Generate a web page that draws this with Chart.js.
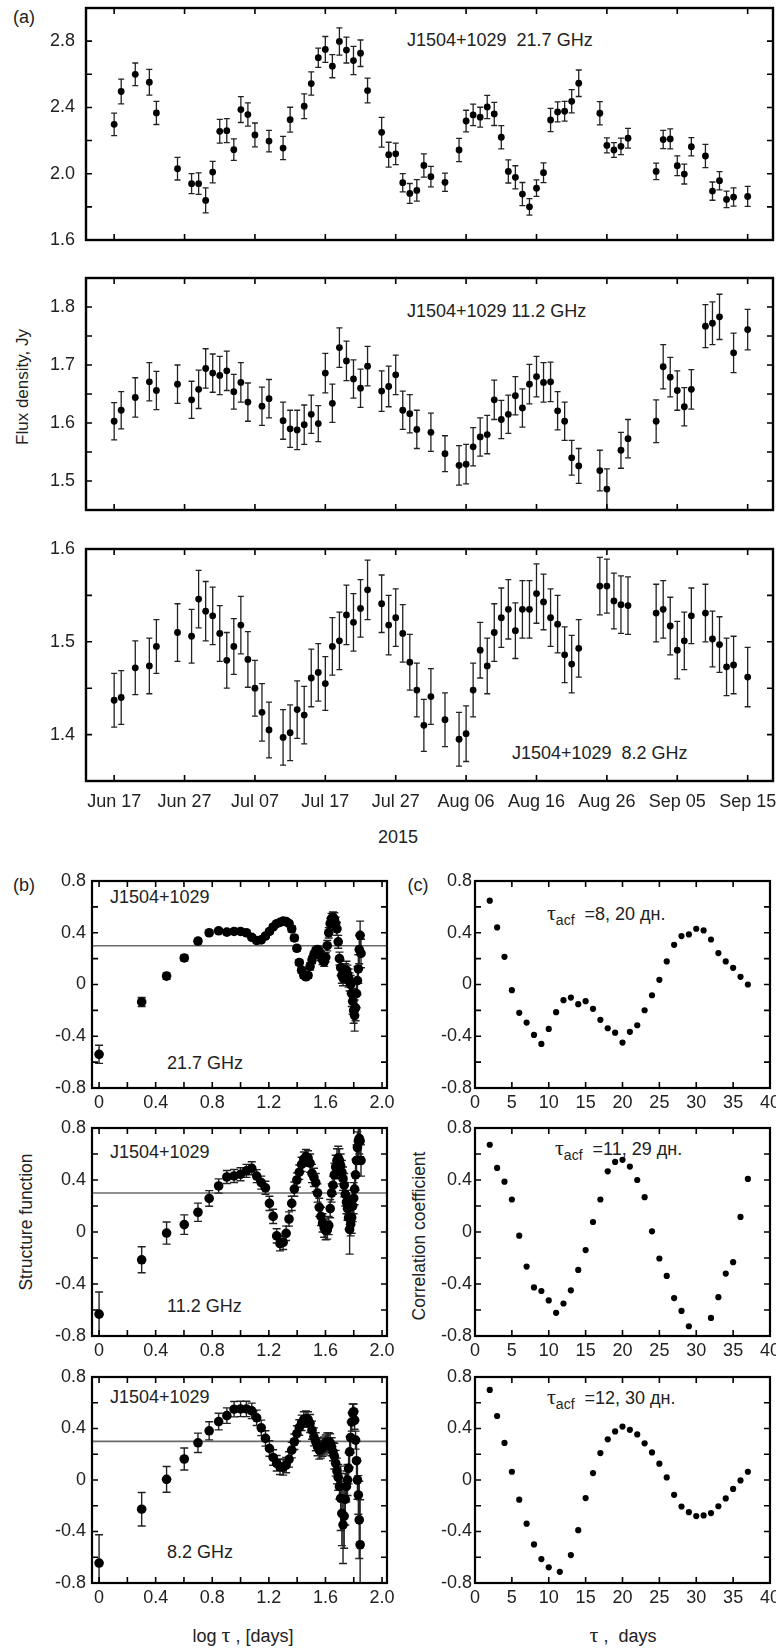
<!DOCTYPE html>
<html><head><meta charset="utf-8"><title>J1504+1029</title>
<script src="https://cdn.jsdelivr.net/npm/chart.js@4.4.1/dist/chart.umd.min.js"></script>
<style>
html,body{margin:0;padding:0;background:#fff}
body{position:relative;width:776px;height:1649px;overflow:hidden;font-family:"Liberation Sans",Arial,Helvetica,sans-serif;color:#222}
canvas{position:absolute}
.t{position:absolute;white-space:pre;font-size:18px;line-height:1;transform:translate(0,-50%)}
.c{transform:translate(-50%,-50%)}
.r{transform:translate(-50%,-50%) rotate(-90deg)}
.tau{font-family:"Liberation Serif","DejaVu Serif",serif;font-size:22px}
.sb{font-size:14px;position:relative;top:5px}
</style></head><body>
<div class="t c" style="left:24px;top:17px">(a)</div>
<div class="t" style="left:407px;top:40px">J1504+1029  21.7 GHz</div>
<div class="t" style="left:407px;top:311px">J1504+1029 11.2 GHz</div>
<div class="t" style="left:512px;top:753px">J1504+1029  8.2 GHz</div>
<div class="t c" style="left:398px;top:837px">2015</div>
<div class="t r" style="left:22px;top:387px;font-size:17px">Flux density, Jy</div>
<div class="t c" style="left:24px;top:885px">(b)</div>
<div class="t c" style="left:418px;top:885px">(c)</div>
<div class="t" style="left:110px;top:897px">J1504+1029</div>
<div class="t" style="left:110px;top:1152px">J1504+1029</div>
<div class="t" style="left:110px;top:1397px">J1504+1029</div>
<div class="t" style="left:167px;top:1063px">21.7 GHz</div>
<div class="t" style="left:167px;top:1306px">11.2 GHz</div>
<div class="t" style="left:167px;top:1552px">8.2 GHz</div>
<div class="t r" style="left:27px;top:1222px;font-size:17.5px">Structure function</div>
<div class="t r" style="left:420px;top:1236px;font-size:17.5px">Correlation coefficient</div>
<div class="t c" style="left:243px;top:1635px">log <span class="tau">τ</span> , [days]</div>
<div class="t c" style="left:623px;top:1635px"><span class="tau">τ</span> ,  days</div>
<div class="t" style="left:547px;top:913px"><span class="tau">τ</span><span class="sb">acf</span>  =8, 20 дн.</div>
<div class="t" style="left:555px;top:1148px"><span class="tau">τ</span><span class="sb">acf</span>  =11, 29 дн.</div>
<div class="t" style="left:547px;top:1397px"><span class="tau">τ</span><span class="sb">acf</span>  =12, 30 дн.</div>
<script>
// ---------------- DATA ----------------
// (a) light curves: day number counted from 2015 Jun 17
const dateTickDays = [0,10,20,30,40,50,60,70,80,90];
const dateTickLabels = ['Jun 17','Jun 27','Jul 07','Jul 17','Jul 27','Aug 06','Aug 16','Aug 26','Sep 05','Sep 15'];

const days21 = [0,1,3,5,6,9,11,12,13,14,15,16,17,18,19,20,22,24,25,27,28,29,30,31,32,33,34,35,36,38,39,40,41,42,43,44,45,47,49,50,51,52,53,54,55,56,57,58,59,60,61,62,63,64,65,66,69,70,71,72,73,77,78,79,80,81,82,84,85,86,87,88,90];
const flux21 = [2.298,2.496,2.60,2.552,2.367,2.03,1.94,1.94,1.839,2.01,2.256,2.26,2.145,2.387,2.357,2.234,2.197,2.155,2.326,2.407,2.544,2.70,2.75,2.649,2.798,2.746,2.683,2.727,2.502,2.25,2.115,2.12,1.946,1.881,1.899,2.05,1.982,1.948,2.143,2.318,2.355,2.341,2.403,2.361,2.22,2.014,1.978,1.877,1.80,1.913,2.006,2.324,2.373,2.377,2.437,2.546,2.365,2.171,2.143,2.165,2.214,2.014,2.206,2.21,2.048,1.998,2.163,2.107,1.895,1.958,1.845,1.859,1.863];
const err21 = [0.068,0.075,0.068,0.078,0.07,0.068,0.06,0.065,0.075,0.065,0.072,0.072,0.065,0.078,0.07,0.072,0.065,0.07,0.075,0.075,0.07,0.058,0.078,0.07,0.082,0.078,0.085,0.08,0.075,0.09,0.075,0.065,0.055,0.06,0.065,0.07,0.062,0.055,0.07,0.065,0.065,0.06,0.07,0.07,0.07,0.07,0.07,0.07,0.05,0.05,0.06,0.07,0.06,0.06,0.07,0.08,0.07,0.045,0.045,0.05,0.06,0.05,0.055,0.06,0.06,0.06,0.055,0.07,0.055,0.055,0.05,0.055,0.06];

const days11 = [0,1,3,5,6,9,11,12,13,14,15,16,17,18,19,21,22,24,25,26,27,28,29,30,31,32,33,34,35,36,38,39,40,41,42,43,45,47,49,50,51,52,53,54,55,56,57,58,59,60,61,62,63,64,65,66,69,70,72,73,77,78,79,80,81,82,84,85,86,88,90];
const flux11 = [1.603,1.622,1.644,1.671,1.656,1.667,1.640,1.658,1.694,1.686,1.682,1.690,1.654,1.670,1.636,1.629,1.642,1.604,1.590,1.588,1.597,1.615,1.599,1.686,1.634,1.730,1.707,1.676,1.660,1.698,1.655,1.663,1.683,1.622,1.616,1.589,1.584,1.547,1.527,1.529,1.559,1.576,1.580,1.640,1.606,1.615,1.647,1.626,1.667,1.680,1.670,1.671,1.621,1.603,1.540,1.526,1.518,1.486,1.553,1.573,1.603,1.697,1.679,1.656,1.628,1.658,1.767,1.772,1.783,1.721,1.761];
const err11 = [0.032,0.032,0.034,0.033,0.033,0.033,0.032,0.033,0.034,0.033,0.033,0.034,0.03,0.034,0.033,0.033,0.033,0.032,0.032,0.034,0.034,0.033,0.031,0.034,0.033,0.034,0.034,0.033,0.033,0.034,0.035,0.035,0.034,0.033,0.033,0.033,0.033,0.031,0.034,0.034,0.033,0.033,0.033,0.034,0.033,0.033,0.033,0.033,0.034,0.035,0.034,0.034,0.033,0.033,0.03,0.03,0.035,0.035,0.031,0.033,0.037,0.038,0.034,0.034,0.033,0.034,0.037,0.037,0.039,0.034,0.035];

const days8 = [0,1,3,5,6,9,11,12,13,14,15,16,17,18,19,20,21,22,24,25,26,27,28,29,30,31,32,33,34,35,36,38,39,40,41,42,43,44,45,47,49,50,51,52,53,54,55,56,57,58,59,60,61,62,63,64,65,66,69,70,71,72,73,77,78,79,80,81,82,84,85,86,87,88,90];
const flux8 = [1.437,1.440,1.472,1.474,1.495,1.510,1.506,1.546,1.533,1.528,1.509,1.480,1.495,1.518,1.481,1.450,1.424,1.405,1.397,1.402,1.427,1.421,1.461,1.467,1.455,1.495,1.501,1.529,1.521,1.536,1.556,1.541,1.518,1.526,1.509,1.478,1.448,1.410,1.441,1.416,1.395,1.401,1.448,1.491,1.474,1.510,1.526,1.535,1.512,1.535,1.535,1.552,1.543,1.526,1.519,1.486,1.476,1.493,1.560,1.560,1.544,1.540,1.539,1.531,1.535,1.517,1.491,1.501,1.528,1.531,1.503,1.497,1.473,1.475,1.462];
const err8 = [0.029,0.029,0.029,0.03,0.029,0.031,0.029,0.031,0.032,0.031,0.03,0.03,0.03,0.031,0.03,0.03,0.031,0.03,0.03,0.03,0.031,0.031,0.031,0.031,0.029,0.031,0.031,0.032,0.031,0.031,0.032,0.031,0.032,0.031,0.031,0.03,0.029,0.028,0.03,0.029,0.029,0.03,0.029,0.03,0.03,0.031,0.032,0.032,0.03,0.031,0.031,0.032,0.03,0.031,0.031,0.03,0.031,0.031,0.031,0.029,0.03,0.031,0.031,0.031,0.031,0.031,0.031,0.031,0.03,0.031,0.03,0.03,0.031,0.031,0.032];

// (b) structure functions vs lag tau (days), plotted on log axis
const sfLevel = 0.3;
const sfLogTicks = [0,0.2,0.4,0.6,0.8,1.0,1.2,1.4,1.6,1.8,2.0];
const sfLogLabels = ['0','','0.4','','0.8','','1.2','','1.6','','2.0'];
const corrTicks = [-0.8,-0.6,-0.4,-0.2,0,0.2,0.4,0.6,0.8];
const corrLabels = ['-0.8','','-0.4','','0','','0.4','','0.8'];

const sfLag21 = [1,2,3,4,5,6,7,8,9,10,11,12,13,14,15,16,17,18,19,20,21,22,23,24,25,26,27,28,29,30,31,32,33,34,35,36,37,38,39,40,41,42,43,44,45,46,47,48,49,50,51,52,53,54,55,56,57,58,59,60,61,62,63,64,65,66,67,68,69,70,71];
const sf21 = [-0.54,-0.135,0.065,0.205,0.335,0.40,0.415,0.405,0.41,0.41,0.40,0.365,0.34,0.345,0.375,0.41,0.445,0.47,0.48,0.49,0.487,0.472,0.43,0.36,0.28,0.17,0.11,0.07,0.06,0.07,0.14,0.19,0.23,0.26,0.27,0.255,0.22,0.19,0.175,0.21,0.30,0.40,0.47,0.51,0.52,0.505,0.47,0.43,0.33,0.20,0.13,0.07,0.05,0.07,0.10,0.11,0.08,0.05,0.02,0.00,-0.07,-0.13,-0.20,-0.24,-0.18,-0.07,0.03,0.12,0.27,0.38,0.24];
const sfErr21 = [0.07,0.035,0.025,0.022,0.02,0.018,0.018,0.018,0.018,0.018,0.018,0.018,0.018,0.018,0.018,0.018,0.018,0.018,0.018,0.018,0.018,0.018,0.022,0.022,0.022,0.022,0.022,0.022,0.022,0.022,0.028,0.028,0.028,0.028,0.028,0.035,0.035,0.035,0.035,0.035,0.04,0.04,0.04,0.04,0.04,0.05,0.05,0.05,0.05,0.05,0.06,0.06,0.06,0.06,0.06,0.07,0.07,0.07,0.07,0.07,0.1,0.1,0.1,0.12,0.1,0.11,0.11,0.11,0.11,0.11,0.11];

const sfLag11 = [1,2,3,4,5,6,7,8,9,10,11,12,13,14,15,16,17,18,19,20,21,22,23,24,25,26,27,28,29,30,31,32,33,34,35,36,37,38,39,40,41,42,43,44,45,46,47,48,49,50,51,52,53,54,55,56,57,58,59,60,61,62,63,64,65,66,67,68,69,70,71];
const sf11 = [-0.632,-0.214,-0.008,0.057,0.152,0.258,0.354,0.423,0.431,0.444,0.47,0.49,0.43,0.38,0.34,0.22,0.12,-0.03,-0.09,-0.08,-0.01,0.10,0.22,0.33,0.40,0.46,0.52,0.56,0.58,0.57,0.53,0.45,0.42,0.38,0.30,0.19,0.12,0.07,0.03,0.01,0.015,0.05,0.18,0.30,0.36,0.44,0.50,0.55,0.57,0.55,0.51,0.46,0.41,0.36,0.29,0.23,0.18,0.11,0.02,0.06,0.11,0.20,0.26,0.33,0.44,0.55,0.65,0.70,0.72,0.70,0.55];
const sfErr11 = [0.17,0.1,0.085,0.075,0.07,0.06,0.055,0.05,0.05,0.05,0.05,0.05,0.05,0.05,0.05,0.055,0.055,0.055,0.055,0.055,0.055,0.055,0.055,0.055,0.055,0.055,0.055,0.055,0.055,0.055,0.07,0.07,0.07,0.07,0.07,0.07,0.07,0.07,0.07,0.07,0.07,0.07,0.07,0.07,0.07,0.09,0.09,0.09,0.09,0.09,0.09,0.09,0.09,0.09,0.09,0.09,0.09,0.09,0.19,0.09,0.12,0.12,0.12,0.12,0.12,0.12,0.12,0.12,0.12,0.12,0.12];

const sfLag8 = [1,2,3,4,5,6,7,8,9,10,11,12,13,14,15,16,17,18,19,20,21,22,23,24,25,26,27,28,29,30,31,32,33,34,35,36,37,38,39,40,41,42,43,44,45,46,47,48,49,50,51,52,53,54,55,56,57,58,59,60,61,62,63,64,65,66,67,68,69,70];
const sf8 = [-0.645,-0.227,0.005,0.163,0.289,0.382,0.454,0.50,0.55,0.552,0.552,0.537,0.483,0.405,0.323,0.245,0.175,0.13,0.103,0.098,0.116,0.16,0.232,0.297,0.361,0.408,0.444,0.47,0.477,0.47,0.439,0.387,0.335,0.297,0.258,0.232,0.24,0.255,0.265,0.28,0.295,0.297,0.289,0.258,0.219,0.185,0.13,0.07,0.02,-0.05,-0.142,-0.26,-0.348,-0.28,-0.15,-0.05,0.0,0.09,0.219,0.33,0.45,0.52,0.53,0.464,0.31,0.15,0.0,-0.116,-0.31,-0.503];
const sfErr8 = [0.22,0.13,0.1,0.085,0.075,0.07,0.065,0.06,0.06,0.06,0.06,0.06,0.06,0.06,0.06,0.06,0.06,0.06,0.06,0.06,0.06,0.06,0.06,0.06,0.06,0.06,0.06,0.06,0.06,0.06,0.07,0.07,0.07,0.07,0.07,0.07,0.07,0.07,0.07,0.07,0.07,0.07,0.07,0.07,0.07,0.1,0.1,0.1,0.1,0.1,0.25,0.25,0.3,0.25,0.2,0.12,0.12,0.12,0.12,0.12,0.07,0.07,0.06,0.07,0.07,0.15,0.15,0.15,0.3,0.35];

// (c) autocorrelation functions
const acfTicks = [0,5,10,15,20,25,30,35,40];
const acfTickLabels = ['0','5','10','15','20','25','30','35','40'];
const acfLag21 = [2,3,4,5,6,7,8,9,10,11,12,13,14,15,16,17,18,19,20,21,22,23,24,25,26,27,28,29,30,31,32,33,34,35,36,37];
const acf21 = [0.648,0.441,0.214,-0.044,-0.219,-0.294,-0.39,-0.459,-0.343,-0.214,-0.121,-0.101,-0.152,-0.129,-0.188,-0.273,-0.338,-0.372,-0.449,-0.366,-0.315,-0.199,-0.083,0.036,0.178,0.307,0.374,0.387,0.431,0.418,0.348,0.243,0.178,0.129,0.059,0.0];
const acfLag11 = [2,3,4,5,6,7,8,9,10,11,12,13,14,15,16,17,18,19,20,21,22,23,24,25,26,27,28,29,32,33,34,35,36,37];
const acf11 = [0.671,0.493,0.387,0.25,-0.028,-0.266,-0.426,-0.454,-0.526,-0.622,-0.55,-0.449,-0.292,-0.139,0.077,0.25,0.467,0.539,0.555,0.503,0.4,0.268,0.005,-0.204,-0.338,-0.508,-0.607,-0.725,-0.661,-0.501,-0.32,-0.232,0.116,0.408];
const acfLag8 = [2,3,4,5,6,7,8,9,10,11.5,13,14,15,16,17,18,19,20,21,22,23,24,25,26,27,28,29,30,31,32,33,34,35,36,37];
const acf8 = [0.70,0.497,0.288,0.064,-0.153,-0.339,-0.5,-0.614,-0.678,-0.713,-0.583,-0.39,-0.14,0.054,0.209,0.316,0.377,0.415,0.39,0.354,0.285,0.214,0.127,0.02,-0.115,-0.206,-0.25,-0.28,-0.275,-0.257,-0.204,-0.143,-0.069,-0.003,0.064];

// ---------------- DRAWING ----------------
Chart.defaults.font.family = "'Liberation Sans', Arial, Helvetica, sans-serif";
Chart.defaults.font.size = 18;
Chart.defaults.color = '#222';

const framePlugin = {
  id: 'frame',
  beforeDatasetsDraw(chart, args, o) {
    const {ctx, chartArea: a, scales: {x, y}} = chart;
    ctx.save();
    ctx.beginPath(); ctx.rect(a.left, a.top, a.right - a.left, a.bottom - a.top); ctx.clip();
    if (o.level != null) {
      const py = y.getPixelForValue(o.level);
      ctx.strokeStyle = '#6a6a6a'; ctx.lineWidth = 1.6;
      ctx.beginPath(); ctx.moveTo(a.left, py); ctx.lineTo(a.right, py); ctx.stroke();
    }
    ctx.strokeStyle = o.errColor || '#222';
    ctx.lineWidth = o.errWidth || 1.3;
    chart.data.datasets.forEach(ds => {
      if (!ds.errors) return;
      ds.data.forEach((p, i) => {
        const e = ds.errors[i]; if (!e) return;
        const px = x.getPixelForValue(p.x);
        const y1 = y.getPixelForValue(p.y - e), y2 = y.getPixelForValue(p.y + e);
        ctx.beginPath();
        ctx.moveTo(px, y1); ctx.lineTo(px, y2);
        ctx.moveTo(px - o.cap, y1); ctx.lineTo(px + o.cap, y1);
        ctx.moveTo(px - o.cap, y2); ctx.lineTo(px + o.cap, y2);
        ctx.stroke();
      });
    });
    ctx.restore();
  },
  afterDraw(chart, args, o) {
    const {ctx, chartArea: a, scales: {x, y}} = chart;
    ctx.save();
    ctx.strokeStyle = '#000';
    ctx.lineWidth = o.tickWidth || 1.6;
    const L = o.tickLen || 6;
    ctx.beginPath();
    x.ticks.forEach(t => {
      const px = x.getPixelForValue(t.value);
      ctx.moveTo(px, a.bottom); ctx.lineTo(px, a.bottom - L);
      ctx.moveTo(px, a.top); ctx.lineTo(px, a.top + L);
    });
    y.ticks.forEach(t => {
      const py = y.getPixelForValue(t.value);
      ctx.moveTo(a.left, py); ctx.lineTo(a.left + L, py);
      ctx.moveTo(a.right, py); ctx.lineTo(a.right - L, py);
    });
    ctx.stroke();
    ctx.lineWidth = o.frameWidth || 2;
    ctx.strokeRect(a.left, a.top, a.right - a.left, a.bottom - a.top);
    ctx.restore();
  }
};

function pts(xs, ys) { return xs.map((v, i) => ({x: v, y: ys[i]})); }

function makePanel(p) {
  const M = 26;
  const cv = document.createElement('canvas');
  const left = p.frame.l - p.padL, top = p.frame.t - M;
  const w = p.frame.r + M - left, h = p.frame.b + p.padB + M - top;
  cv.width = w; cv.height = h;
  cv.style.left = left + 'px'; cv.style.top = top + 'px';
  cv.style.width = w + 'px'; cv.style.height = h + 'px';
  document.body.appendChild(cv);
  const xMap = p.xLog ? (v => Math.pow(10, v)) : (v => v);
  return new Chart(cv, {
    type: 'scatter',
    data: {datasets: [{
      data: pts(p.xs, p.ys), errors: p.errs,
      pointRadius: p.r, pointBackgroundColor: '#000', pointBorderWidth: 0, pointHoverRadius: p.r,
      showLine: false
    }]},
    options: {
      responsive: false, maintainAspectRatio: false, animation: false, devicePixelRatio: 1, events: [],
      layout: {padding: {left: 0, top: M, right: M, bottom: M}},
      plugins: {legend: {display: false}, tooltip: {enabled: false},
        frame: {level: p.level, cap: p.cap, errWidth: p.errWidth, tickLen: 6, frameWidth: p.frameWidth, tickWidth: 1.6}},
      scales: {
        x: {type: p.xLog ? 'logarithmic' : 'linear', min: p.xMin, max: p.xMax,
            grid: {display: false, drawTicks: false}, border: {display: false},
            afterBuildTicks: s => { s.ticks = p.xTicks.map(v => ({value: xMap(v)})); },
            afterFit: s => { s.height = p.padB; },
            ticks: {autoSkip: false, maxRotation: 0, minRotation: 0, padding: p.xPad,
                    callback: (v, i) => p.xLabels[i]}},
        y: {type: 'linear', min: p.yMin, max: p.yMax,
            grid: {display: false, drawTicks: false}, border: {display: false},
            afterBuildTicks: s => { s.ticks = p.yTicks.map(v => ({value: v})); },
            afterFit: s => { s.width = p.padL; },
            ticks: {padding: p.yPad, callback: (v, i) => p.yLabels[i]}}
      }
    },
    plugins: [framePlugin]
  });
}

const noLabels = dateTickDays.map(() => '');
const aCommon = {padL: 80, xMin: -4, xMax: 93.6, xTicks: dateTickDays, r: 3.4, cap: 3, errWidth: 1.3, frameWidth: 2.4, yPad: 11, xPad: 10};

makePanel(Object.assign({}, aCommon, {frame: {l: 86, r: 773, t: 8, b: 240}, padB: 10, xLabels: noLabels,
  xs: days21, ys: flux21, errs: err21, yMin: 1.6, yMax: 3.0,
  yTicks: [1.6,1.8,2.0,2.2,2.4,2.6,2.8], yLabels: ['1.6','','2.0','','2.4','','2.8']}));
makePanel(Object.assign({}, aCommon, {frame: {l: 86, r: 773, t: 278, b: 510}, padB: 10, xLabels: noLabels,
  xs: days11, ys: flux11, errs: err11, yMin: 1.45, yMax: 1.85,
  yTicks: [1.5,1.55,1.6,1.65,1.7,1.75,1.8], yLabels: ['1.5','','1.6','','1.7','','1.8']}));
makePanel(Object.assign({}, aCommon, {frame: {l: 86, r: 773, t: 549, b: 781}, padB: 40, xLabels: dateTickLabels,
  xs: days8, ys: flux8, errs: err8, yMin: 1.35, yMax: 1.6,
  yTicks: [1.4,1.45,1.5,1.55,1.6], yLabels: ['1.4','','1.5','','1.6']}));

const rows = [{t: 881, b: 1088}, {t: 1128, b: 1336}, {t: 1377, b: 1583}];
const bCommon = {padL: 60, padB: 30, xLog: true, xMin: Math.pow(10, -0.05), xMax: Math.pow(10, 2.035),
  xTicks: sfLogTicks, xLabels: sfLogLabels, yMin: -0.8, yMax: 0.8, yTicks: corrTicks, yLabels: corrLabels,
  r: 4.8, cap: 4, errWidth: 1.4, frameWidth: 2.2, yPad: 6, xPad: 4, level: sfLevel};
[[sfLag21, sf21, sfErr21], [sfLag11, sf11, sfErr11], [sfLag8, sf8, sfErr8]].forEach((d, k) => {
  makePanel(Object.assign({}, bCommon, {frame: {l: 92, r: 387, t: rows[k].t, b: rows[k].b}, xs: d[0], ys: d[1], errs: d[2]}));
});

const cCommon = {padL: 60, padB: 30, xMin: 0, xMax: 40, xTicks: acfTicks, xLabels: acfTickLabels,
  yMin: -0.8, yMax: 0.8, yTicks: corrTicks, yLabels: corrLabels, r: 3.1, cap: 0, frameWidth: 2.2, yPad: 3, xPad: 4};
[[acfLag21, acf21], [acfLag11, acf11], [acfLag8, acf8]].forEach((d, k) => {
  makePanel(Object.assign({}, cCommon, {frame: {l: 475, r: 770, t: rows[k].t, b: rows[k].b}, xs: d[0], ys: d[1], errs: null}));
});
</script></body></html>
